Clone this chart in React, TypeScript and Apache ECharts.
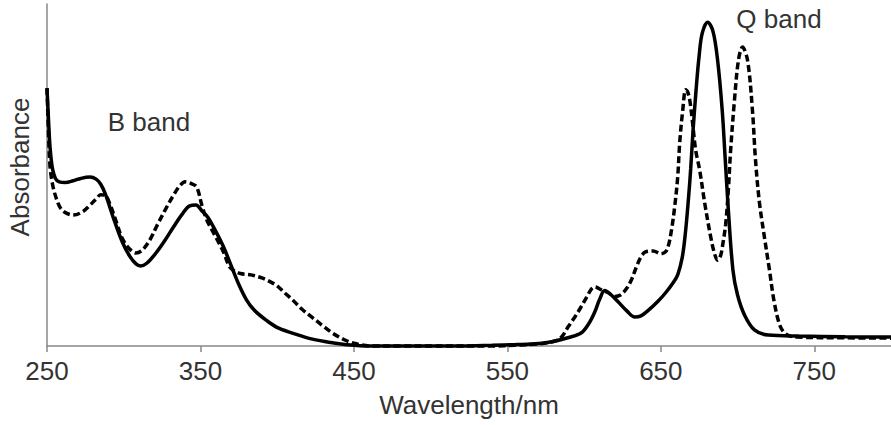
import { useEffect, useRef } from "react";
import * as echarts from "echarts";

// Solid curve (wavelength nm, absorbance a.u.)
const solidWavelength = [
  250, 251, 252, 253.5, 255.5, 258, 262, 267, 272, 278, 282, 285, 288, 291, 294, 299, 304, 308, 311, 315, 321,
  327, 332, 338, 343, 347, 351, 355, 360, 365, 370, 375, 380, 385, 393, 401, 414, 423, 435, 445, 460,
  480, 500, 520, 540, 555, 565, 576, 590, 598, 603, 607, 610, 613.5, 617, 622, 628, 633, 637, 642, 648,
  653, 658, 661, 664, 666, 668, 669.5, 671, 673, 675, 677, 680.5, 684, 687, 690, 692, 694, 697, 700, 704.5,
  711, 720, 740, 770, 800,
];
const solidAbsorbance = [
  75.4, 66, 58, 52, 49, 48, 47.8, 48.3, 49, 49.4, 48.8, 47.3, 44.5, 40.5, 36.5, 30.5, 26.2, 24, 23.4, 24.2, 27.2,
  31, 34.5, 38.5, 41, 41.2, 39.5, 37.5, 33.5, 29, 23.5, 18, 13.5, 10.5, 7.5, 5.2, 3.2, 2, 1, 0.4, 0,
  0, 0, 0, 0.2, 0.4, 0.6, 1, 2.5, 3.8, 6.5, 10, 13.5, 16.2, 15.2, 13, 10.2, 8.5, 8.8, 10.5, 13,
  15.5, 18.5, 20.8, 26, 33, 43, 52, 63, 75, 85, 91.5, 94.7, 92, 83.6, 69, 54.4, 39.8, 22.2, 14.9, 9.1,
  4.7, 3.2, 2.9, 2.7, 2.6,
];

// Dashed curve
const dashedWavelength = [
  250, 251, 252, 253.5, 255, 257, 259, 262, 267, 273, 278, 282, 285, 288, 291, 295, 299, 304, 308, 312, 317,
  322, 328, 333, 336.5, 340, 344, 347.5, 351, 354, 358, 361, 365, 369, 372, 376, 383, 390, 395, 400, 405,
  410, 416, 423, 430, 436, 443, 449, 462, 480, 500, 520, 540, 555, 570, 580, 585, 589.6, 594, 598, 602,
  604.5, 607, 611, 616, 620, 624, 628, 631, 634, 637, 640, 645, 650, 653, 655, 657, 659, 661, 662.3, 664.3,
  666.2, 667.5, 669, 670.5, 672.7, 675.3, 678.6, 682.5, 685, 687, 689, 690.3, 692.2, 694, 695.5, 698, 700.6, 703.2,
  706.5, 709.7, 711.7, 714.3, 717.5, 720.8, 724, 728, 732.5, 739, 770, 800,
];
const dashedAbsorbance = [
  75.4, 62, 52.3, 47.5, 44.7, 42, 40.2, 39, 38.3, 39.2, 41.2, 43, 44.2, 44, 41.5, 36.5, 31.5, 28.3, 27.2, 28, 31,
  35.5, 40.6, 44.5, 46.8, 48, 47.5, 46.5, 41, 37, 33.5, 31, 27.5, 23.1, 22, 21.2, 20.8, 19.9, 18.9, 17.6, 15.5,
  13.5, 10.8, 8.3, 5.8, 3.8, 2, 0.9, 0, 0, 0, 0, 0, 0.2, 0.6, 1.3, 2.5, 5.6, 8.5, 11.4, 14.5,
  16.5, 17.3, 16.5, 15.5, 14.5, 15, 17, 19.5, 23, 26, 27.5, 27.8, 27, 27.5, 29.5, 34, 40.6, 49.4, 59.4, 69,
  74.9, 74.3, 71.5, 66, 57.3, 51.5, 41.8, 31.9, 27, 25.1, 26.5, 29.5, 35.4, 45.6, 57.3, 71.9, 83.6, 87.4,
  83.6, 69, 54.4, 41.8, 31.9, 22.2, 12.6, 5.6, 3.2, 2.6, 2.4, 2.3,
];

const xTickMin = 250;
const xTickMax = 800;
const xTickStep = 100;

const FONT = "'Liberation Sans', Arial, sans-serif";
const TEXT_COLOR = "#333";
const AXIS_COLOR = "#888";

export default function App() {
  const ref = useRef<HTMLDivElement>(null);

  useEffect(() => {
    if (!ref.current) return;
    const chart = echarts.init(ref.current, null, { renderer: "svg" });
    const solidData = solidWavelength.map((w, i) => [w, solidAbsorbance[i]]);
    const dashedData = dashedWavelength.map((w, i) => [w, dashedAbsorbance[i]]);
    chart.setOption({
      animation: false,
      backgroundColor: "#fff",
      textStyle: { fontFamily: FONT },
      grid: { left: 47, right: -3, top: 4, bottom: 79, containLabel: false },
      xAxis: {
        type: "value",
        min: xTickMin,
        max: xTickMax,
        interval: xTickStep,
        name: "Wavelength/nm",
        nameLocation: "middle",
        nameGap: 46,
        nameTextStyle: { fontSize: 26, color: TEXT_COLOR, fontFamily: FONT },
        axisLine: { show: true, lineStyle: { color: AXIS_COLOR, width: 1.5 } },
        axisTick: { show: true, length: 6, lineStyle: { color: AXIS_COLOR, width: 1.5 } },
        axisLabel: {
          fontSize: 26,
          color: TEXT_COLOR,
          fontFamily: FONT,
          margin: 12,
          showMaxLabel: false,
          formatter: (v: number) => (v === xTickMax ? "" : String(v)),
        },
        splitLine: { show: false },
      },
      yAxis: {
        type: "value",
        min: 0,
        max: 100,
        axisLine: { show: true, lineStyle: { color: AXIS_COLOR, width: 1.5 } },
        axisTick: { show: false },
        axisLabel: { show: false },
        splitLine: { show: false },
      },
      graphic: [
        {
          type: "text",
          x: 149,
          y: 122,
          style: {
            text: "B band",
            fontSize: 26,
            fontFamily: FONT,
            fill: TEXT_COLOR,
            textAlign: "center",
            textVerticalAlign: "middle",
          },
        },
        {
          type: "text",
          x: 779,
          y: 19,
          style: {
            text: "Q band",
            fontSize: 26,
            fontFamily: FONT,
            fill: TEXT_COLOR,
            textAlign: "center",
            textVerticalAlign: "middle",
          },
        },
        {
          type: "text",
          x: 20,
          y: 167,
          rotation: Math.PI / 2,
          style: {
            text: "Absorbance",
            fontSize: 26,
            fontFamily: FONT,
            fill: TEXT_COLOR,
            textAlign: "center",
            textVerticalAlign: "middle",
          },
        },
      ],
      series: [
        {
          name: "solid",
          type: "line",
          data: solidData,
          showSymbol: false,
          smooth: 0.35,
          clip: false,
          lineStyle: { color: "#000", width: 3.5, type: "solid" },
        },
        {
          name: "dashed",
          type: "line",
          data: dashedData,
          showSymbol: false,
          smooth: 0.35,
          clip: false,
          lineStyle: { color: "#000", width: 3.5, type: [7, 3.5] },
        },
      ],
    });
    return () => chart.dispose();
  }, []);

  return (
    <div
      ref={ref}
      style={{ position: "absolute", left: 0, top: 0, width: 891, height: 425 }}
    />
  );
}
